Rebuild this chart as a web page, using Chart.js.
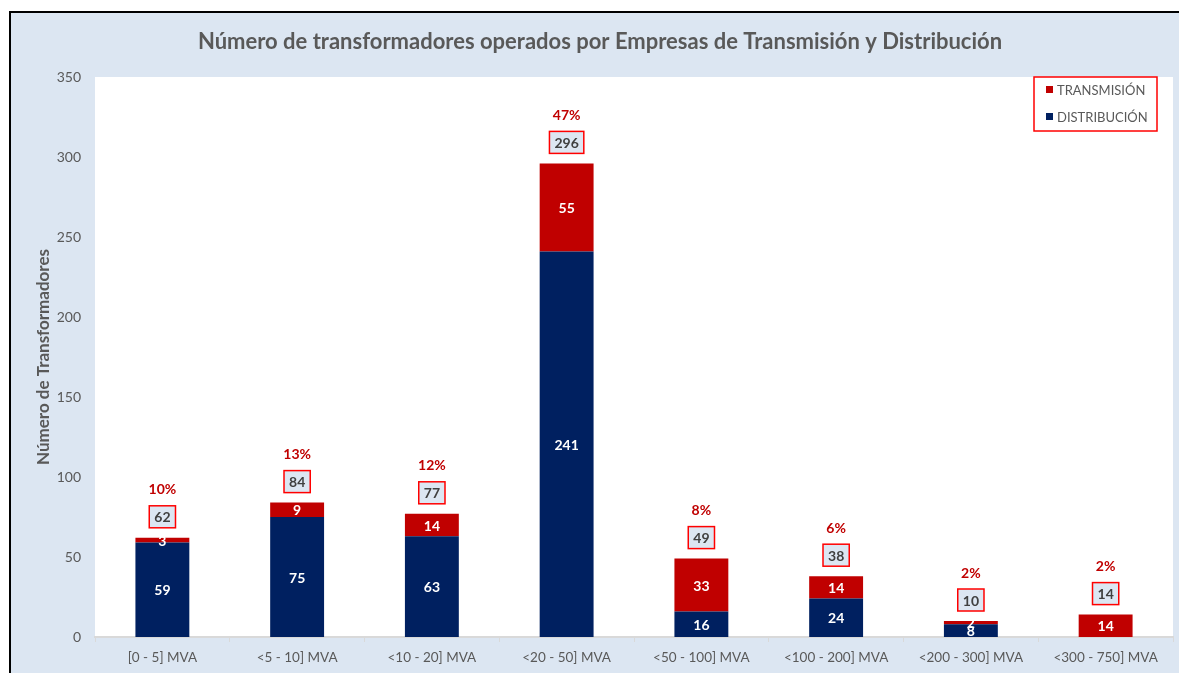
<!DOCTYPE html>
<html>
<head>
<meta charset="utf-8">
<script src="https://cdn.jsdelivr.net/npm/chart.js@4"></script>
<style>
  html, body { margin: 0; padding: 0; background: #ffffff; }
  #wrap { position: absolute; left: 0; top: 0; width: 1179px; height: 673px; }
</style>
</head>
<body>
<div id="wrap"><canvas id="grafico" width="1179" height="673"></canvas></div>
<script>
// datos
const categorias = ['[0 - 5] MVA', '<5 - 10] MVA', '<10 - 20] MVA', '<20 - 50] MVA', '<50 - 100] MVA', '<100 - 200] MVA', '<200 - 300] MVA', '<300 - 750] MVA'];
const distribucion = [59, 75, 63, 241, 16, 24, 8, 0];
const transmision = [3, 9, 14, 55, 33, 14, 2, 14];
const porcentajes = ['10%', '13%', '12%', '47%', '8%', '6%', '2%', '2%'];
const ticksY = [0, 50, 100, 150, 200, 250, 300, 350];

const AZUL = '#002060';
const ROJO = '#c00000';
const FONDO = '#dce6f2';
const GRIS = '#595959';
const FUENTE = 'Lato, "Open Sans", sans-serif';

// fondo y marco
const fondoPlugin = {
  id: 'fondo',
  beforeDraw(chart) {
    const ctx = chart.ctx;
    const a = chart.chartArea;
    ctx.save();
    ctx.fillStyle = '#ffffff';
    ctx.fillRect(0, 0, chart.width, chart.height);
    ctx.fillStyle = FONDO;
    ctx.fillRect(10, 12, chart.width - 10, chart.height - 12);
    ctx.strokeStyle = '#000000';
    ctx.lineWidth = 2;
    ctx.beginPath();
    ctx.moveTo(10, chart.height);
    ctx.lineTo(10, 12);
    ctx.lineTo(chart.width, 12);
    ctx.stroke();
    ctx.fillStyle = '#ffffff';
    ctx.fillRect(a.left, a.top, a.right - a.left, a.bottom - a.top);
    // titulo
    ctx.fillStyle = GRIS;
    ctx.font = 'bold 22px ' + FUENTE;
    ctx.textAlign = 'center';
    ctx.textBaseline = 'middle';
    ctx.fillText('Número de transformadores operados por Empresas de Transmisión y Distribución', 600, 42);
    ctx.restore();
  }
};

// etiquetas, totales, porcentajes y leyenda
const etiquetasPlugin = {
  id: 'etiquetas',
  afterDatasetsDraw(chart) {
    const ctx = chart.ctx;
    const y = chart.scales.y;
    ctx.save();
    ctx.textAlign = 'center';
    ctx.textBaseline = 'middle';
    ctx.font = 'bold 14px ' + FUENTE;
    ctx.fillStyle = '#ffffff';
    chart.data.datasets.forEach((ds, i) => {
      const meta = chart.getDatasetMeta(i);
      meta.data.forEach((bar, j) => {
        if (!ds.data[j]) return;
        ctx.fillText(String(ds.data[j]), bar.x, (bar.y + bar.base) / 2 + 1);
      });
    });

    const barras = chart.getDatasetMeta(0).data;
    categorias.forEach((c, j) => {
      const total = distribucion[j] + transmision[j];
      const cx = barras[j].x;
      const tope = y.getPixelForValue(total);
      const texto = String(total);
      ctx.font = 'bold 14px ' + FUENTE;
      const w = ctx.measureText(texto).width + 10;
      const h = 22;
      const by = tope - 21;
      ctx.fillStyle = FONDO;
      ctx.fillRect(cx - w / 2, by - h / 2, w, h);
      ctx.strokeStyle = '#ff0000';
      ctx.lineWidth = 1.5;
      ctx.strokeRect(cx - w / 2, by - h / 2, w, h);
      ctx.fillStyle = '#404040';
      ctx.fillText(texto, cx, by + 1);
      ctx.fillStyle = ROJO;
      ctx.fillText(porcentajes[j], cx, tope - 48);
    });

    // leyenda
    const lx = 1034, ly = 77, lw = 123, lh = 54;
    ctx.fillStyle = '#ffffff';
    ctx.fillRect(lx, ly, lw, lh);
    ctx.strokeStyle = '#ff0000';
    ctx.lineWidth = 1.5;
    ctx.strokeRect(lx, ly, lw, lh);
    ctx.font = '13px ' + FUENTE;
    ctx.textAlign = 'left';
    [['TRANSMISIÓN', ROJO, 90], ['DISTRIBUCIÓN', AZUL, 117]].forEach(([t, col, yy]) => {
      ctx.fillStyle = col;
      ctx.fillRect(lx + 12, yy - 4, 7, 7);
      ctx.fillStyle = GRIS;
      ctx.fillText(t, lx + 23, yy + 1);
    });
    ctx.restore();
  }
};

new Chart(document.getElementById('grafico'), {
  type: 'bar',
  data: {
    labels: categorias,
    datasets: [
      { label: 'DISTRIBUCIÓN', data: distribucion, backgroundColor: AZUL, barPercentage: 0.4, categoryPercentage: 1 },
      { label: 'TRANSMISIÓN', data: transmision, backgroundColor: ROJO, barPercentage: 0.4, categoryPercentage: 1 }
    ]
  },
  options: {
    responsive: false,
    animation: false,
    layout: { padding: { left: 33, right: 6, top: 77, bottom: 0 } },
    plugins: {
      legend: { display: false },
      tooltip: { enabled: false }
    },
    scales: {
      x: {
        stacked: true,
        offset: true,
        afterFit(s) { s.height = 36; },
        grid: { display: true, drawOnChartArea: false, offset: true, tickLength: 5, color: '#d9d9d9', lineWidth: 1 },
        border: { display: true, color: '#d9d9d9', width: 2 },
        ticks: { color: GRIS, font: { family: FUENTE, size: 13.5 }, padding: 8, maxRotation: 0, autoSkip: false }
      },
      y: {
        stacked: true,
        min: 0,
        max: 350,
        afterFit(s) { s.width = 62; },
        afterBuildTicks(s) { s.ticks = ticksY.map(v => ({ value: v })); },
        grid: { display: false },
        border: { display: false },
        title: { display: true, text: 'Número de Transformadores', color: GRIS, font: { family: FUENTE, size: 17, weight: 'bold' }, padding: 0 },
        ticks: { color: GRIS, font: { family: FUENTE, size: 14 }, padding: 6 }
      }
    }
  },
  plugins: [fondoPlugin, etiquetasPlugin]
});
</script>
</body>
</html>
